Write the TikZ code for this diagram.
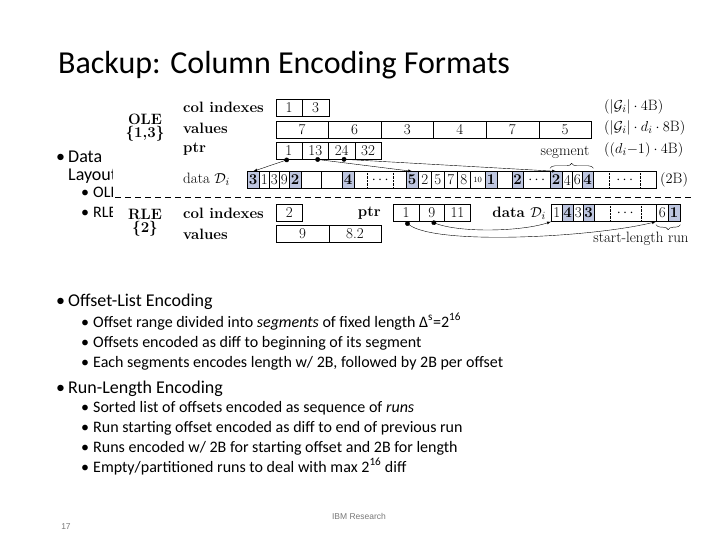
\documentclass[tikz,border=0pt]{standalone}
\usepackage{fontspec}
\newfontfamily\slidefont{Carlito}
\newfontfamily\footfont{Liberation Sans}
\usetikzlibrary{arrows,calc,decorations.pathreplacing}
\definecolor{segfill}{RGB}{190,198,224}
\definecolor{footgray}{RGB}{120,120,120}
\newcommand\figfont{\fontsize{15}{18}\selectfont}

\begin{document}
\begin{tikzpicture}[x=1pt,y=-1pt]

\tikzset{cell/.style = {draw, anchor=west, inner sep=0pt, minimum height=17pt, font=\figfont}}
\tikzset{seg/.style = {cell, fill=segfill, font=\figfont\bfseries}}
\tikzset{small/.style = {cell, font=\fontsize{8}{8}\selectfont}}
\tikzset{gap/.style = {cell, path picture={
  \draw[densely dotted] ($(path picture bounding box.north west)!.25!(path picture bounding box.north east)$)
    -- ($(path picture bounding box.south west)!.25!(path picture bounding box.south east)$);
  \draw[densely dotted] ($(path picture bounding box.north west)!.75!(path picture bounding box.north east)$)
    -- ($(path picture bounding box.south west)!.75!(path picture bounding box.south east)$);}}}
\tikzset{rowlabel/.style = {anchor=west, inner sep=0pt, font=\figfont\bfseries}}
\tikzset{enclabel/.style = {anchor=center, inner sep=0pt, font=\figfont\bfseries}}
\tikzset{note/.style = {anchor=west, inner sep=0pt, font=\figfont}}
\tikzset{ptrarrow/.style = {*-latex, thin}}
\tikzset{bigitem/.style = {anchor=base west, inner sep=0pt, font=\slidefont\fontsize{18}{22}\selectfont}}
\tikzset{subitem/.style = {anchor=base west, inner sep=0pt, font=\slidefont\fontsize{16}{19}\selectfont}}
\tikzset{foot/.style = {anchor=center, font=\footfont\fontsize{8.5}{10}\selectfont, text=footgray}}

\useasboundingbox (0,0) rectangle (720,540);

% slide text
\node[anchor=base west, inner sep=0pt, font=\slidefont\fontsize{32}{38}\selectfont] (title) at (58,74) {Backup: Column Encoding Formats};
\node[bigitem] (b0) at (56,163) {\textbullet};
\node[bigitem] (datalayout) at (68,163) {Data};
\node[bigitem] (layout) at (68,181) {Layout};
\node[subitem] (b0a) at (81,198) {\textbullet};
\node[subitem] (oleitem) at (93,198) {OLE};
\node[subitem] (b0b) at (81,218) {\textbullet};
\node[subitem] (rleitem) at (93,218) {RLE};

\node[bigitem] (b1) at (56,306) {\textbullet};
\node[bigitem] (olehead) at (68,306) {Offset-List Encoding};
\node[subitem] (b1a) at (81,327) {\textbullet};
\node[subitem] (ole1) at (93,327) {Offset range divided into \textit{segments} of fixed length Δ\textsuperscript{s}=2\textsuperscript{16}};
\node[subitem] (b1b) at (81,347) {\textbullet};
\node[subitem] (ole2) at (93,347) {Offsets encoded as diff to beginning of its segment};
\node[subitem] (b1c) at (81,367) {\textbullet};
\node[subitem] (ole3) at (93,367) {Each segments encodes length w/ 2B, followed by 2B per offset};

\node[bigitem] (b2) at (56,393) {\textbullet};
\node[bigitem] (rlehead) at (68,393) {Run-Length Encoding};
\node[subitem] (b2a) at (81,412) {\textbullet};
\node[subitem] (rle1) at (93,412) {Sorted list of offsets encoded as sequence of \textit{runs}};
\node[subitem] (b2b) at (81,432) {\textbullet};
\node[subitem] (rle2) at (93,432) {Run starting offset encoded as diff to end of previous run};
\node[subitem] (b2c) at (81,452) {\textbullet};
\node[subitem] (rle3) at (93,452) {Runs encoded w/ 2B for starting offset and 2B for length};
\node[subitem] (b2d) at (81,472) {\textbullet};
\node[subitem] (rle4) at (93,472) {Empty/partitioned runs to deal with max 2\textsuperscript{16} diff};

\node[foot] (page) at (66,527) {17};
\node[foot] (ibm) at (359,516) {IBM Research};

% figure
\fill[white] (113,92) rectangle (702,248);

% OLE part
\node[enclabel] (ole) at (145,119) {OLE};
\node[enclabel] (oleset) at (145,134) {\{1,3\}};
\node[rowlabel] (lci) at (183,107) {col indexes};
\node[rowlabel] (lval) at (183,128) {values};
\node[rowlabel] (lptr) at (183,149) {ptr};
\node[note] (ldata) at (183,179) {data $\mathcal{D}_i$};

\foreach \n/\t in {1/1,2/3}
  \node[cell, minimum width=26.5pt] (ci\n) at (275.5+26.5*\n-26.5,108) {\t};
\foreach \n/\t in {1/7,2/6,3/3,4/4,5/7,6/5}
  \node[cell, minimum width=52.6pt] (v\n) at (275.5+52.6*\n-52.6,129.5) {\t};
\foreach \n/\t in {1/1,2/13,3/24,4/32}
  \node[cell, minimum width=26.4pt] (p\n) at (275.5+26.4*\n-26.4,150.5) {\t};

\foreach \n/\x/\w/\t/\s in {1/247/12/3/seg, 2/259/10/1/cell, 3/269/10/3/cell, 4/279/10/9/cell,
    5/289/12/2/seg, 6/301/20//cell, 7/321/21//cell, 8/342/12/4/seg, 9/354/52/$\cdots$/gap,
    10/406/12/5/seg, 11/418/13/2/cell, 12/431/13/5/cell, 13/444/13/7/cell, 14/457/13/8/cell,
    15/470/15/10/small, 16/485/12/1/seg, 17/497/15//cell, 18/512/11/2/seg, 19/523/27/$\cdots$/cell,
    20/550/12/2/seg, 21/562/10/4/cell, 22/572/10/6/cell, 23/582/11/4/seg, 24/593/63/$\cdots$/gap}
  \node[\s, minimum width=\w pt] (d\n) at (\x,180) {\t};

\node[note] (nci) at (604,107) {$(|\mathcal{G}_i|\cdot 4\mathrm{B})$};
\node[note] (nval) at (604,128) {$(|\mathcal{G}_i|\cdot d_i\cdot 8\mathrm{B})$};
\node[note] (nptr) at (604,150) {$((d_i{-}1)\cdot 4\mathrm{B})$};
\node[note] (ndata) at (660,180) {$(2\mathrm{B})$};

\node[anchor=center, inner sep=0pt, font=\figfont] (seglbl) at (565,152) {segment};
\draw[decorate, decoration={brace, amplitude=5pt}] ($(d20.north west)+(0,-3)$) -- ($(d23.north east)+(0,-3)$);

\draw[ptrarrow] (p1.south) -- (d1.north);
\draw[ptrarrow] (p2.south) -- (d10.north);
\draw[ptrarrow] (p3.south) -- (d20.north);

\draw[dash pattern=on 6pt off 4pt] (115,197) -- (694,197);

% RLE part
\node[enclabel] (rle) at (145,214) {RLE};
\node[enclabel] (rleset) at (145,229) {\{2\}};
\node[rowlabel] (rci) at (183,213) {col indexes};
\node[rowlabel] (rval) at (183,234) {values};
\node[rowlabel, anchor=east] (rptr) at (381,213) {ptr};
\node[rowlabel, anchor=east] (rdata) at (546,213) {data $\mathcal{D}_i$};

\node[cell, minimum width=26pt] (rc1) at (276,213) {2};
\foreach \n/\t in {1/9,2/8.2}
  \node[cell, minimum width=52.5pt] (rv\n) at (276+52.5*\n-52.5,233.5) {\t};
\foreach \n/\t in {1/1,2/9,3/11}
  \node[cell, minimum width=25.7pt] (q\n) at (393+25.7*\n-25.7,213) {\t};

\foreach \n/\x/\w/\t/\s in {1/551/11/1/cell, 2/562/11/4/seg, 3/573/10/3/cell, 4/583/11/3/seg,
    5/594/62/$\cdots$/gap, 6/656/12/6/cell, 7/668/12/1/seg}
  \node[\s, minimum width=\w pt] (r\n) at (\x,213) {\t};

\draw[ptrarrow] (q1.south) .. controls (425,246) and (590,238) .. (r6.south west);
\draw[ptrarrow] (q2.south) .. controls (455,233) and (520,232) .. (r1.south west);

\draw[decorate, decoration={brace, amplitude=5pt}] ($(r7.south east)+(0,3)$) -- ($(r6.south west)+(0,3)$);
\node[anchor=center, inner sep=0pt, font=\figfont] (runlbl) at (641,239) {start-length run};

\end{tikzpicture}
\end{document}
